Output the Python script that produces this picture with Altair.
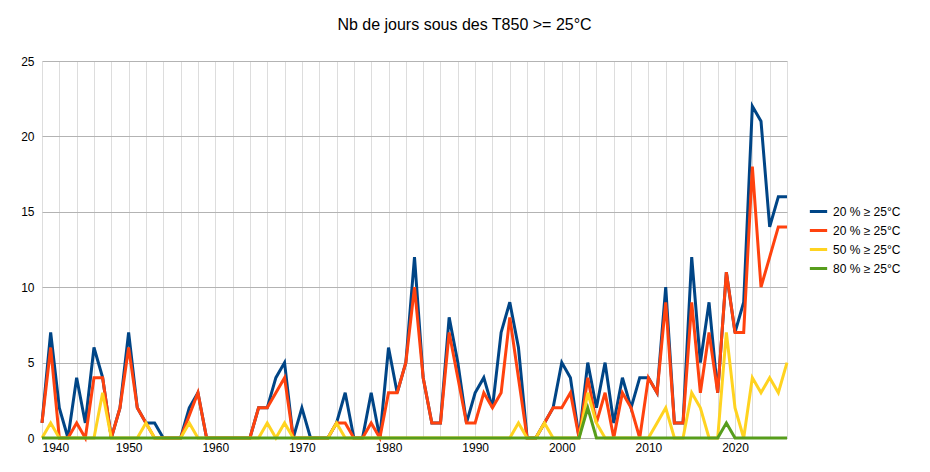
import pandas as pd
import altair as alt

years = list(range(1940, 2027))

bleu = [1, 7, 2, 0, 4, 1, 6, 4, 0, 2,
        7, 2, 1, 1, 0, 0, 0, 2, 3, 0,
        0, 0, 0, 0, 0, 2, 2, 4, 5, 0,
        2, 0, 0, 0, 1, 3, 0, 0, 3, 0,
        6, 3, 5, 12, 4, 1, 1, 8, 5, 1,
        3, 4, 2, 7, 9, 6, 0, 0, 1, 2,
        5, 4, 0, 5, 2, 5, 1, 4, 2, 4,
        4, 3, 10, 1, 1, 12, 5, 9, 3, 11,
        7, 9, 22, 21, 14, 16, 16]
rouge = [1, 6, 0, 0, 1, 0, 4, 4, 0, 2,
         6, 2, 1, 0, 0, 0, 0, 1.5, 3, 0,
         0, 0, 0, 0, 0, 2, 2, 3, 4, 0,
         0, 0, 0, 0, 1, 1, 0, 0, 1, 0,
         3, 3, 5, 10, 4, 1, 1, 7, 4, 1,
         1, 3, 2, 3, 8, 4, 0, 0, 1, 2,
         2, 3, 0, 4, 1, 3, 0, 3, 2, 0,
         4, 3, 9, 1, 1, 9, 3, 7, 3, 11,
         7, 7, 18, 10, 12, 14, 14]
jaune = [0, 1, 0, 0, 0, 0, 0, 3, 0, 0,
         0, 0, 1, 0, 0, 0, 0, 1, 0, 0,
         0, 0, 0, 0, 0, 0, 1, 0, 1, 0,
         0, 0, 0, 0, 1, 0, 0, 0, 0, 0,
         0, 0, 0, 0, 0, 0, 0, 0, 0, 0,
         0, 0, 0, 0, 0, 1, 0, 0, 1, 0,
         0, 0, 0, 3, 1, 0, 0, 0, 0, 0,
         0, 1, 2, 0, 0, 3, 2, 0, 0, 7,
         2, 0, 4, 3, 4, 3, 5]
vert = [0] * 87
vert[2003 - 1940] = 2
vert[2019 - 1940] = 1

series = {'a': bleu, 'b': rouge, 'c': jaune, 'd': vert}

rows = []
for key, vals in series.items():
    for an, v in zip(years, vals):
        rows.append({'Année': an, 'Jours': v, 'serie': key})
df = pd.DataFrame(rows)

# deux séries ont le même libellé, donc on passe par des clés
label_expr = ("datum.value == 'a' ? '20 % ≥ 25°C' : datum.value == 'b' ? '20 % ≥ 25°C' : "
              "datum.value == 'c' ? '50 % ≥ 25°C' : '80 % ≥ 25°C'")

chart = alt.Chart(df).mark_line(strokeWidth=3).encode(
    x=alt.X('Année:Q', scale=alt.Scale(domain=[1940, 2026], nice=False, zero=False),
            axis=alt.Axis(title=None, values=list(range(1940, 2027, 2)),
                          labelExpr="datum.value % 10 == 0 ? datum.value : ''",
                          gridColor='#dddddd', ticks=False, domain=False,
                          labelColor='#000', labelFontSize=12, labelPadding=4)),
    y=alt.Y('Jours:Q', scale=alt.Scale(domain=[0, 25]),
            axis=alt.Axis(title=None, values=[0, 5, 10, 15, 20, 25], gridColor='#b3b3b3',
                          ticks=False, domain=False, labelColor='#000',
                          labelFontSize=12, labelPadding=8)),
    color=alt.Color('serie:N',
                    scale=alt.Scale(domain=['a', 'b', 'c', 'd'],
                                    range=['#004586', '#ff420e', '#ffd320', '#579d1c']),
                    legend=alt.Legend(title=None, orient='none', legendX=766, legendY=140,
                                      labelExpr=label_expr, symbolType='stroke',
                                      symbolStrokeWidth=3, symbolSize=300,
                                      labelFontSize=12, labelColor='#000', rowPadding=2)),
    order=alt.Order('serie:N')
).properties(
    width=745, height=377,
    title=alt.TitleParams('Nb de jours sous des T850 >= 25°C', fontSize=16, fontWeight='normal',
                          anchor='middle', frame='group', dx=50, offset=22, color='#000'),
    padding={'left': 34, 'top': 53, 'right': 135, 'bottom': 26},
    autosize=alt.AutoSizeParams(type='none')
).configure(font='Liberation Sans').configure_view(stroke=None)

chart.save("out.html", embed_options={"renderer": "svg", "actions": False})
